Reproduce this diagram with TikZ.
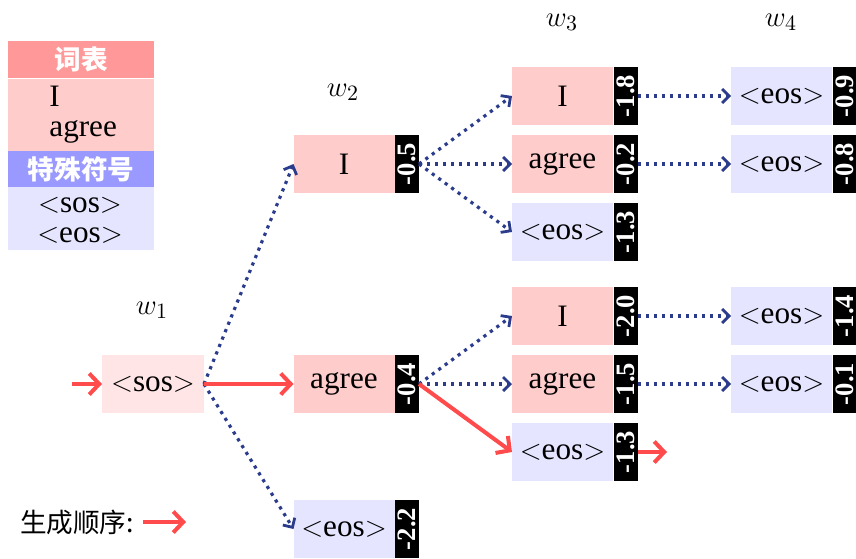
\documentclass[tikz,border=0pt]{standalone}
\usepackage{fontspec}
\usepackage{graphicx}
\setmainfont{Liberation Serif}
\newfontfamily\cjk{Noto Sans CJK SC}
\usetikzlibrary{arrows.meta,calc}
\definecolor{vocabpink}{HTML}{FFCCCC}
\definecolor{startpink}{HTML}{FFE5E5}
\definecolor{speclav}{HTML}{E5E5FF}
\definecolor{headred}{HTML}{FF9999}
\definecolor{headblue}{HTML}{9999FF}
\definecolor{pathred}{HTML}{FF4B4B}
\definecolor{branchblue}{HTML}{2B3C8C}

% token box with its score tag on the right
\newcommand{\tok}[6]{%
  \node[#4] (#1) at (#2,#3) {#5};
  \node[score] (#1s) at ($(#1.east)+(12.5,0)$) {\rotatebox{90}{#6}};}

\begin{document}
\begin{tikzpicture}[x=0.5pt,y=-0.5pt,
  wordfont/.style={font=\fontsize{15.6}{15}\selectfont},
  token/.style={wordfont, minimum width=50.5pt, minimum height=29pt, inner sep=0pt, outer sep=0pt},
  vocab/.style={token, fill=vocabpink},
  special/.style={token, fill=speclav},
  startbox/.style={token, minimum width=51pt, fill=startpink},
  score/.style={fill=black, text=white, minimum width=12pt, minimum height=29pt, inner sep=0pt, outer sep=0pt, font=\bfseries\fontsize{13.3}{13}\selectfont},
  branch/.style={branchblue, line width=1.6pt, dash pattern=on 1.6pt off 2.4pt, -{Straight Barb[length=3.5pt,width=7pt,line width=1.4pt]}},
  chosen/.style={pathred, line width=2pt, -{Straight Barb[length=5pt,width=10.5pt,line width=2pt]}},
  legendhead/.style={minimum width=73pt, inner sep=0pt, text=white, font=\cjk\bfseries\fontsize{13.3}{14}\selectfont},
  legendbody/.style={minimum width=73pt, inner sep=0pt},
  steplabel/.style={font=\fontsize{15.6}{17}\selectfont},
]
\useasboundingbox (0,0) rectangle (856,558);

% legend
\node[legendhead, fill=headred, minimum height=18.5pt] (vhead) at (81,59.5) {词表};
\node[legendbody, fill=vocabpink, minimum height=36pt] (vbody) at (81,115) {};
\node[legendhead, fill=headblue, minimum height=18pt] (shead) at (81,169) {特殊符号};
\node[legendbody, fill=speclav, minimum height=31.5pt] (sbody) at (81,218.5) {};
\node[wordfont, anchor=west, align=left, inner sep=0pt] (lgvocab) at (49,115) {I\\agree};
\node[wordfont, align=center, inner sep=0pt] (lgspec) at (80,220) {$<$sos$>$\\$<$eos$>$};

% step labels
\node[steplabel] (w1) at (152,310) {$w_1$};
\node[steplabel] (w2) at (343,92) {$w_2$};
\node[steplabel] (w3) at (562,22) {$w_3$};
\node[steplabel] (w4) at (781,22) {$w_4$};

% start token
\node[startbox] (sos) at (153,384) {$<$sos$>$};

% step 2
\tok{aI}{344}{164}{vocab}{I}{-0.5}
\tok{aAg}{344}{384}{vocab}{agree}{-0.4}
\tok{aEos}{344}{529}{special}{$<$eos$>$}{-2.2}

% step 3
\tok{bI}{562.5}{96}{vocab}{I}{-1.8}
\tok{bAg}{562.5}{164}{vocab}{agree}{-0.2}
\tok{bEos}{562.5}{232}{special}{$<$eos$>$}{-1.3}
\tok{cI}{562.5}{316}{vocab}{I}{-2.0}
\tok{cAg}{562.5}{384}{vocab}{agree}{-1.5}
\tok{cEos}{562.5}{452}{special}{$<$eos$>$}{-1.3}

% step 4
\tok{dA}{781.5}{96}{special}{$<$eos$>$}{-0.9}
\tok{dB}{781.5}{164}{special}{$<$eos$>$}{-0.8}
\tok{dC}{781.5}{316}{special}{$<$eos$>$}{-1.4}
\tok{dD}{781.5}{384}{special}{$<$eos$>$}{-0.1}

% explored branches
\draw[branch] (sos.east) -- (aI.west);
\draw[branch] (sos.east) -- (aEos.west);
\draw[branch] (aIs.east) -- (bI.west);
\draw[branch] (aIs.east) -- (bAg.west);
\draw[branch] (aIs.east) -- (bEos.west);
\draw[branch] (aAgs.east) -- (cI.west);
\draw[branch] (aAgs.east) -- (cAg.west);
\draw[branch] (bIs.east) -- (dA.west);
\draw[branch] (bAgs.east) -- (dB.west);
\draw[branch] (cIs.east) -- (dC.west);
\draw[branch] (cAgs.east) -- (dD.west);

% generated sequence
\coordinate (in) at (72,384);
\coordinate (out) at (667,452);
\draw[chosen] (in) -- (sos.west);
\draw[chosen] (sos.east) -- (aAg.west);
\draw[chosen] (aAgs.east) -- (cEos.west);
\draw[chosen] (cEoss.east) -- (out);

% key for the generation order
\node[font=\cjk\fontsize{13.3}{14}\selectfont, inner sep=0pt] (order) at (77,522) {生成顺序:};
\coordinate (kA) at (143,522);
\coordinate (kB) at (186,522);
\draw[chosen] (kA) -- (kB);
\end{tikzpicture}
\end{document}
